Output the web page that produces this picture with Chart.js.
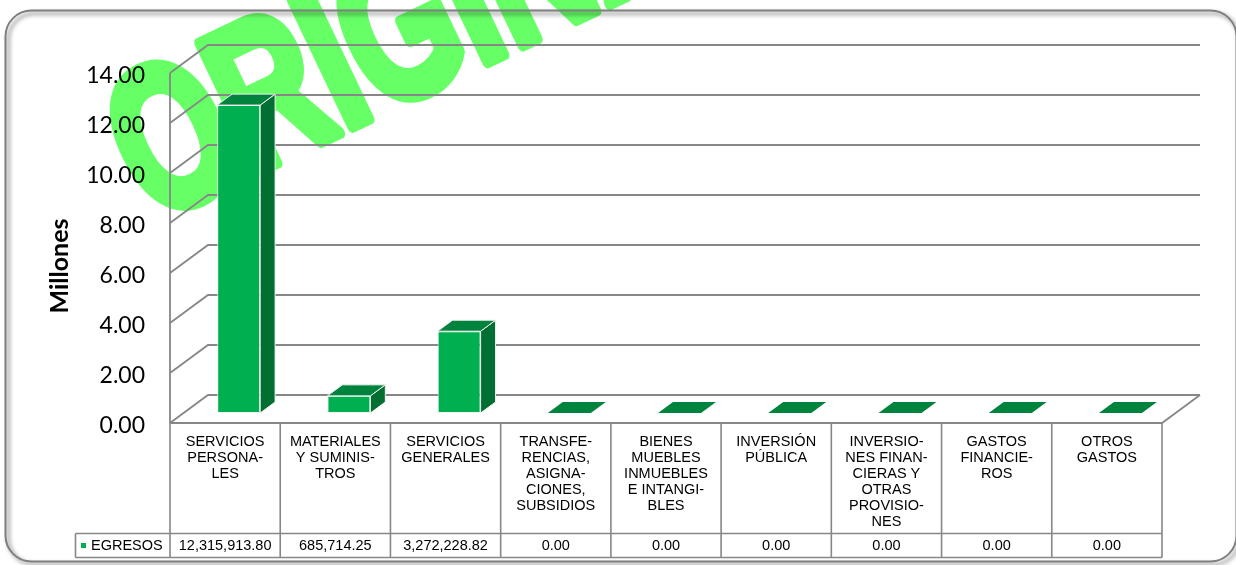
<!DOCTYPE html>
<html>
<head>
<meta charset="utf-8">
<script src="https://cdn.jsdelivr.net/npm/chart.js@4.4.1/dist/chart.umd.min.js"></script>
<style>
html,body{margin:0;padding:0;background:#fff;}
#wrap{width:1236px;height:565px;position:relative;}
</style>
</head>
<body>
<div id="wrap"><canvas id="c" width="1236" height="565"></canvas></div>
<script>
// ---- data ----
const categories = [
  ["SERVICIOS","PERSONA-","LES"],
  ["MATERIALES","Y SUMINIS-","TROS"],
  ["SERVICIOS","GENERALES"],
  ["TRANSFE-","RENCIAS,","ASIGNA-","CIONES,","SUBSIDIOS"],
  ["BIENES","MUEBLES","INMUEBLES","E INTANGI-","BLES"],
  ["INVERSIÓN","PÚBLICA"],
  ["INVERSIO-","NES FINAN-","CIERAS Y","OTRAS","PROVISIO-","NES"],
  ["GASTOS","FINANCIE-","ROS"],
  ["OTROS","GASTOS"]
];
const seriesName = "EGRESOS";
const egresos = [12315913.80, 685714.25, 3272228.82, 0.00, 0.00, 0.00, 0.00, 0.00, 0.00];
const yTickValues = [0, 2, 4, 6, 8, 10, 12, 14];
const yTitle = "Millones";
const watermarkText = "ORIGINAL";

// ---- styling constants ----
const DX = 38, DY = -28;          // depth vector of the 3D floor
const F1 = 10/28, F2 = 21/28;     // bar front / back depth fractions
const C_FRONT = '#00B050', C_TOP = '#00843D', C_SIDE = '#006F31';
const GRID = '#878787';
const TABLE_FONT = '14.5px "Liberation Sans", Arial, sans-serif';

const fmt = v => v.toLocaleString('en-US', {minimumFractionDigits: 2, maximumFractionDigits: 2});

const scene3d = {
  id: 'scene3d',
  beforeDraw(chart) {
    const ctx = chart.ctx;
    ctx.save();
    ctx.fillStyle = '#ffffff';
    ctx.fillRect(0, 0, chart.width, chart.height);
    // watermark
    ctx.save();
    ctx.translate(151.6, 222.5);
    ctx.rotate(-25.5 * Math.PI / 180);
    ctx.scale(0.69, 1);
    ctx.font = 'bold 205px "Liberation Sans", Arial, sans-serif';
    ctx.fillStyle = '#66FF66';
    ctx.strokeStyle = '#66FF66';
    ctx.lineWidth = 12;
    ctx.lineJoin = 'round';
    ctx.textBaseline = 'alphabetic';
    ctx.strokeText(watermarkText, 0, 0);
    ctx.fillText(watermarkText, 0, 0);
    ctx.restore();
    // outer rounded frame
    ctx.save();
    ctx.shadowColor = 'rgba(0,0,0,0.55)';
    ctx.shadowOffsetX = 3; ctx.shadowOffsetY = 3; ctx.shadowBlur = 4;
    ctx.strokeStyle = '#7f7f7f';
    ctx.lineWidth = 2;
    ctx.beginPath();
    ctx.roundRect(5.5, 10.5, 1231, 551, 26);
    ctx.stroke();
    ctx.restore();
    ctx.restore();
  },
  beforeDatasetsDraw(chart) {
    const {ctx, chartArea: a, scales: {y}} = chart;
    ctx.save();
    ctx.strokeStyle = GRID;
    ctx.lineWidth = 1.8;
    ctx.beginPath();
    y.ticks.forEach(t => {
      const py = y.getPixelForValue(t.value);
      ctx.moveTo(a.left, py);
      ctx.lineTo(a.left + DX, py + DY);
      ctx.lineTo(a.right + DX, py + DY);
    });
    ctx.moveTo(a.left, a.top);
    ctx.lineTo(a.left, a.bottom);
    ctx.moveTo(a.left, a.bottom);
    ctx.lineTo(a.right, a.bottom);
    ctx.lineTo(a.right + DX, a.bottom + DY);
    ctx.stroke();
    ctx.restore();
    // shift front faces into the depth of the floor
    ctx.save();
    ctx.translate(F1 * DX, F1 * DY);
  },
  afterDatasetsDraw(chart) {
    const ctx = chart.ctx;
    ctx.restore();
    const meta = chart.getDatasetMeta(0);
    const ox = F1 * DX, oy = F1 * DY;
    const ddx = (F2 - F1) * DX, ddy = (F2 - F1) * DY;
    ctx.save();
    ctx.lineWidth = 1;
    ctx.strokeStyle = '#f2f2f2';
    meta.data.forEach((el, i) => {
      const L = el.x - el.width / 2 + ox, R = el.x + el.width / 2 + ox;
      const T = el.y + oy, B = el.base + oy;
      const hasH = Math.abs(B - T) > 0.5;
      if (hasH) {
        ctx.beginPath();
        ctx.moveTo(R, T); ctx.lineTo(R + ddx, T + ddy); ctx.lineTo(R + ddx, B + ddy); ctx.lineTo(R, B); ctx.closePath();
        ctx.fillStyle = C_SIDE; ctx.fill(); ctx.stroke();
      }
      ctx.beginPath();
      ctx.moveTo(L, T); ctx.lineTo(L + ddx, T + ddy); ctx.lineTo(R + ddx, T + ddy); ctx.lineTo(R, T); ctx.closePath();
      ctx.fillStyle = C_TOP; ctx.fill();
      if (hasH) ctx.stroke();
    });
    ctx.restore();
  },
  afterDraw(chart) {
    const {ctx, chartArea: a, scales: {x}} = chart;
    const n = categories.length;
    const cw = (a.right - a.left) / n;
    const yTop = a.bottom, yHead = 533.5, yBot = 557.5, xLab = 75.5;
    ctx.save();
    // y-axis title
    ctx.save();
    ctx.translate(68, 266);
    ctx.rotate(-Math.PI / 2);
    ctx.font = 'bold 25px Lato, "Open Sans", sans-serif';
    ctx.fillStyle = '#000';
    ctx.textAlign = 'center';
    ctx.textBaseline = 'alphabetic';
    ctx.fillText(yTitle, 0, 0);
    ctx.restore();
    // table grid
    ctx.strokeStyle = GRID;
    ctx.lineWidth = 1.6;
    ctx.beginPath();
    for (let i = 0; i <= n; i++) {
      const bx = (i < n ? x.getPixelForValue(i) - cw / 2 : x.getPixelForValue(n - 1) + cw / 2);
      ctx.moveTo(bx, yTop); ctx.lineTo(bx, yBot);
    }
    ctx.moveTo(xLab, yHead); ctx.lineTo(a.right, yHead);
    ctx.moveTo(xLab, yBot); ctx.lineTo(a.right, yBot);
    ctx.moveTo(xLab, yHead); ctx.lineTo(xLab, yBot);
    ctx.stroke();
    // texts
    ctx.fillStyle = '#000';
    ctx.font = TABLE_FONT;
    ctx.textAlign = 'center';
    ctx.textBaseline = 'middle';
    categories.forEach((lines, i) => {
      const cx = x.getPixelForValue(i);
      lines.forEach((ln, j) => ctx.fillText(ln, cx, 442 + j * 16));
      ctx.fillText(fmt(egresos[i]), cx, 546);
    });
    // legend key + series name
    ctx.fillStyle = C_FRONT;
    ctx.fillRect(81, 543, 5, 5);
    ctx.fillStyle = '#000';
    ctx.textAlign = 'left';
    ctx.fillText(seriesName, 91, 546);
    ctx.restore();
  }
};

new Chart(document.getElementById('c'), {
  type: 'bar',
  data: {
    labels: categories,
    datasets: [{
      label: seriesName,
      data: egresos.map(v => v / 1e6),
      backgroundColor: C_FRONT,
      borderColor: '#f2f2f2',
      borderWidth: 1,
      borderSkipped: false,
      categoryPercentage: 1,
      barPercentage: 0.39,
      clip: false
    }]
  },
  options: {
    responsive: false,
    animation: false,
    devicePixelRatio: 1,
    events: [],
    layout: {padding: {top: 73, right: 74, bottom: 142, left: 0}},
    plugins: {legend: {display: false}, tooltip: {enabled: false}, title: {display: false}},
    scales: {
      x: {display: false, offset: true},
      y: {
        min: yTickValues[0],
        max: yTickValues[yTickValues.length - 1],
        afterBuildTicks: s => { s.ticks = yTickValues.map(v => ({value: v})); },
        afterFit: s => { s.width = 170; },
        grid: {display: false, drawTicks: false},
        border: {display: false},
        ticks: {
          padding: 25,
          labelOffset: 3,
          color: '#000',
          font: {family: 'Lato, "Open Sans", sans-serif', size: 23},
          callback: v => Number(v).toFixed(2)
        }
      }
    }
  },
  plugins: [scene3d]
});
</script>
</body>
</html>
